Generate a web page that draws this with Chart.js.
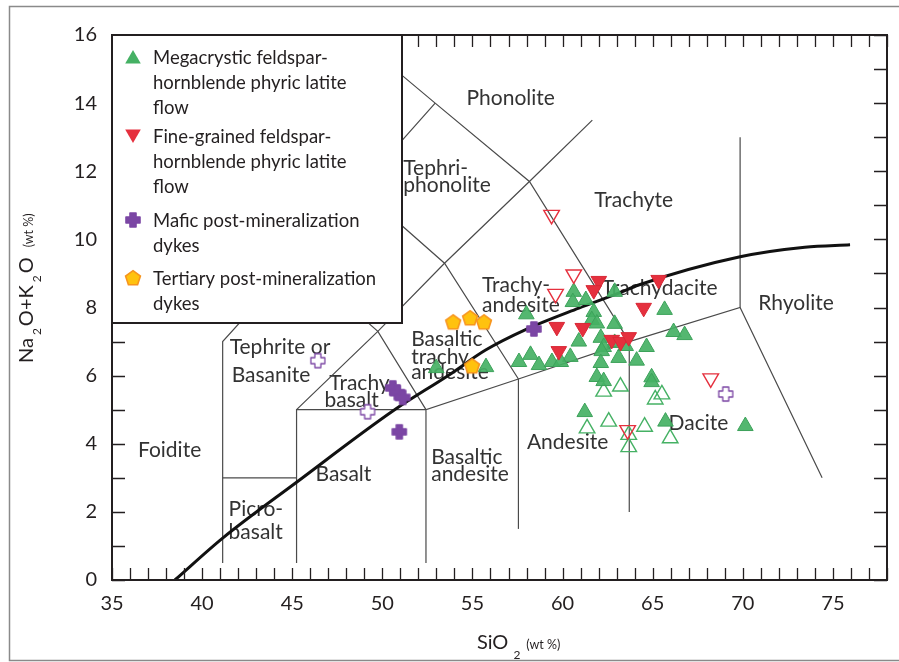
<!DOCTYPE html>
<html>
<head>
<meta charset="utf-8">
<script src="https://cdn.jsdelivr.net/npm/chart.js@4.4.0/dist/chart.umd.min.js"></script>
<style>
  html, body { margin: 0; padding: 0; background: #fff; }
  canvas { display: block; }
</style>
</head>
<body>
<canvas id="tas" width="899" height="662"></canvas>
<script>
// Megacrystic feldspar-hornblende phyric latite flow (solid and open symbols)
const megaSiO2 = [57.99, 60.62, 60.57, 61.29, 61.73, 61.62, 62.89, 62.89, 61.90, 65.66, 66.16, 66.77, 60.90,
  62.12, 62.89, 64.66, 62.28, 62.17, 60.43, 62.12, 63.11, 64.11, 57.58, 58.22, 58.69, 59.41, 59.90, 63.50,
  61.90, 62.28, 64.94, 64.94, 61.23, 65.71, 70.14, 55.75, 52.99];
const megaAlk = [7.80, 8.46, 8.16, 8.22, 7.87, 7.63, 8.46, 7.52, 7.53, 7.93, 7.28, 7.19, 7.00,
  7.11, 6.96, 6.84, 6.84, 6.72, 6.55, 6.37, 6.52, 6.44, 6.40, 6.61, 6.31, 6.40, 6.40, 6.87,
  5.96, 5.84, 5.95, 5.81, 4.93, 4.65, 4.52, 6.25, 6.22];
const megaOpenSiO2 = [62.28, 63.21, 65.14, 65.51, 61.36, 62.56, 64.55, 63.67, 63.67, 65.97];
const megaOpenAlk = [5.53, 5.68, 5.30, 5.45, 4.45, 4.65, 4.50, 4.26, 3.90, 4.16];

// Fine-grained feldspar-hornblende phyric latite flow
const fineSiO2 = [62.01, 61.73, 65.33, 64.50, 59.68, 61.12, 59.79, 62.73, 63.22, 63.67];
const fineAlk = [8.78, 8.51, 8.81, 7.99, 7.43, 7.40, 6.72, 7.05, 6.99, 7.13];
const fineOpenSiO2 = [59.39, 60.62, 59.61, 68.22, 63.61];
const fineOpenAlk = [10.72, 8.97, 8.40, 5.92, 4.40];

// Mafic post-mineralization dykes
const maficSiO2 = [50.58, 50.83, 51.13, 50.94, 58.41];
const maficAlk = [5.64, 5.50, 5.36, 4.35, 7.37];
const maficOpenSiO2 = [46.42, 49.18, 69.05];
const maficOpenAlk = [6.44, 4.94, 5.46];

// Tertiary post-mineralization dykes
const tertSiO2 = [53.93, 54.87, 55.64, 54.98];
const tertAlk = [7.57, 7.69, 7.57, 6.28];

// alkaline / subalkaline divide
const divideSiO2 = [38.49, 41.14, 45.24, 50.66, 53.7, 55.73, 57.95, 60.9, 63.11, 64.22, 69.85, 73.44, 75.95];
const divideAlk = [0, 1.23, 2.87, 4.99, 6.02, 6.75, 7.35, 7.98, 8.42, 8.66, 9.49, 9.77, 9.84];

// TAS field boundaries as drawn on the figure
const fieldLines = [
  [[41.14, 0.5], [41.14, 7], [45.24, 9.4], [48.73, 11.5], [52.93, 14]],
  [[41.14, 3], [45.24, 3]],
  [[45.24, 0.5], [45.24, 5], [52.42, 5]],
  [[52.42, 0.5], [52.42, 5], [57.55, 5.9], [63.7, 7], [69.85, 8], [74.4, 3]],
  [[57.55, 1.5], [57.55, 5.9]],
  [[63.7, 2], [63.7, 7]],
  [[69.85, 8], [69.85, 13]],
  [[45.24, 5], [49.75, 7.3], [53.45, 9.3], [58.16, 11.7], [61.65, 13.5]],
  [[52.42, 5], [49.75, 7.3], [45.24, 9.4]],
  [[57.55, 5.9], [53.45, 9.3], [48.73, 11.5]],
  [[63.7, 7], [58.16, 11.7], [52.93, 14], [50.0, 15.3]],
];

// field names: text, SiO2, alkalis, align
const fieldLabels = [
  ['Phonolite', 57.12, 14.15, 'center'],
  ['Tephri-', 51.16, 12.10, 'left'],
  ['phonolite', 51.16, 11.60, 'left'],
  ['Trachyte', 63.94, 11.16, 'center'],
  ['Trachy-', 55.53, 8.66, 'left'],
  ['andesite', 55.53, 8.07, 'left'],
  ['Trachydacite', 62.17, 8.57, 'left'],
  ['Rhyolite', 70.86, 8.13, 'left'],
  ['Dacite', 65.88, 4.61, 'left'],
  ['Andesite', 58.02, 4.05, 'left'],
  ['Basaltic', 52.71, 3.61, 'left'],
  ['andesite', 52.71, 3.11, 'left'],
  ['Basaltic', 51.60, 7.08, 'left'],
  ['trachy', 51.60, 6.55, 'left'],
  ['andesite', 51.60, 6.11, 'left'],
  ['Tephrite or', 41.53, 6.84, 'left'],
  ['Basanite', 41.64, 6.02, 'left'],
  ['Trachy-', 47.06, 5.78, 'left'],
  ['basalt', 46.79, 5.28, 'left'],
  ['Foidite', 36.44, 3.82, 'left'],
  ['Basalt', 46.29, 3.11, 'left'],
  ['Picro-', 41.47, 2.08, 'left'],
  ['basalt', 41.47, 1.41, 'left'],
];

const xTickLabels = [35, 40, 45, 50, 55, 60, 65, 70, 75];
const yTickLabels = [0, 2, 4, 6, 8, 10, 12, 14, 16];

const INK = '#231f20';
const GREEN = '#45b164';
const RED = '#e5303e';
const PURPLE = '#7b46a4';
const FONT = 'Lato';

const toPts = (xs, ys) => xs.map((x, i) => ({ x: x, y: ys[i] }));

function makeCross(solid) {
  const c = document.createElement('canvas');
  c.width = c.height = 18;
  const g = c.getContext('2d');
  const m = 9, a = 7, w = 3;
  g.beginPath();
  g.moveTo(m - w, m - a); g.lineTo(m + w, m - a); g.lineTo(m + w, m - w); g.lineTo(m + a, m - w);
  g.lineTo(m + a, m + w); g.lineTo(m + w, m + w); g.lineTo(m + w, m + a); g.lineTo(m - w, m + a);
  g.lineTo(m - w, m + w); g.lineTo(m - a, m + w); g.lineTo(m - a, m - w); g.lineTo(m - w, m - w);
  g.closePath();
  g.lineJoin = 'round';
  g.fillStyle = solid ? PURPLE : '#fff';
  g.fill();
  g.lineWidth = solid ? 1.6 : 1.3;
  g.strokeStyle = PURPLE;
  g.stroke();
  return c;
}

function makePentagon() {
  const c = document.createElement('canvas');
  c.width = c.height = 20;
  const g = c.getContext('2d');
  g.beginPath();
  for (let k = 0; k < 5; k++) {
    const t = -Math.PI / 2 + k * 2 * Math.PI / 5;
    g.lineTo(10 + 7.8 * Math.cos(t), 10.5 + 7.8 * Math.sin(t));
  }
  g.closePath();
  g.fillStyle = '#ffc20e';
  g.fill();
  g.lineWidth = 1.6;
  g.strokeStyle = '#f7941d';
  g.stroke();
  return c;
}

const crossSolid = makeCross(true);
const crossOpen = makeCross(false);
const pentagon = makePentagon();

function marker(label, xs, ys, style, fill, edge, rot, width) {
  return {
    label: label,
    data: toPts(xs, ys),
    pointStyle: style,
    pointRotation: rot || 0,
    pointRadius: 9,
    backgroundColor: fill,
    borderColor: edge,
    borderWidth: width,
    order: 0,
  };
}

const datasets = [
  marker('Tertiary post-mineralization dykes', tertSiO2, tertAlk, pentagon, '#ffc20e', '#f7941d'),
  marker('Mafic post-mineralization dykes', maficSiO2, maficAlk, crossSolid, PURPLE, PURPLE),
  marker('Mafic open', maficOpenSiO2, maficOpenAlk, crossOpen, '#fff', PURPLE),
  marker('Fine-grained feldspar-hornblende phyric latite flow', fineSiO2, fineAlk, 'triangle', RED, '#d92836', 180, 1),
  marker('Fine open', fineOpenSiO2, fineOpenAlk, 'triangle', 'rgba(255,255,255,0)', RED, 180, 1.4),
  marker('Megacrystic feldspar-hornblende phyric latite flow', megaSiO2, megaAlk, 'triangle', 'rgba(69,177,100,0.92)', '#3ca25a', 0, 1),
  marker('Mega open', megaOpenSiO2, megaOpenAlk, 'triangle', 'rgba(255,255,255,0)', GREEN, 0, 1.4),
  {
    label: 'divide',
    data: toPts(divideSiO2, divideAlk),
    showLine: true,
    pointRadius: 0,
    borderColor: '#111',
    borderWidth: 3,
    cubicInterpolationMode: 'monotone',
    order: 1,
  },
];

fieldLines.forEach(function (seg, i) {
  datasets.push({
    label: 'field' + i,
    data: seg.map(p => ({ x: p[0], y: p[1] })),
    showLine: true,
    pointRadius: 0,
    borderColor: '#4a4a4a',
    borderWidth: 1.2,
    order: 2,
  });
});

const legendEntries = [
  { lines: ['Megacrystic feldspar-', 'hornblende phyric latite', 'flow'], kind: 'tri', cy: 22 },
  { lines: ['Fine-grained feldspar-', 'hornblende phyric latite', 'flow'], kind: 'inv', cy: 101 },
  { lines: ['Mafic post-mineralization', 'dykes'], kind: 'cross', cy: 185 },
  { lines: ['Tertiary post-mineralization', 'dykes'], kind: 'pent', cy: 243 },
];

function triPath(ctx, x, y, r, down) {
  const s = down ? -1 : 1;
  ctx.beginPath();
  ctx.moveTo(x, y - s * r);
  ctx.lineTo(x + r * 0.866, y + s * r / 2);
  ctx.lineTo(x - r * 0.866, y + s * r / 2);
  ctx.closePath();
}

const tasDecor = {
  id: 'tasDecor',
  beforeDatasetsDraw(chart) {
    const { ctx, scales: { x, y } } = chart;
    ctx.save();
    ctx.fillStyle = '#333';
    ctx.font = '21px ' + FONT;
    ctx.textBaseline = 'middle';
    fieldLabels.forEach(function (l) {
      ctx.textAlign = l[3];
      ctx.fillText(l[0], x.getPixelForValue(l[1]), y.getPixelForValue(l[2]));
    });
    ctx.restore();
  },
  afterDatasetsDraw(chart) {
    const { ctx, chartArea: a, scales: { x, y } } = chart;
    ctx.save();
    // inward ticks on all four sides
    ctx.strokeStyle = INK;
    ctx.lineWidth = 1.3;
    ctx.beginPath();
    x.ticks.forEach(function (t) {
      const px = Math.round(x.getPixelForValue(t.value)) + 0.5;
      ctx.moveTo(px, a.bottom); ctx.lineTo(px, a.bottom - 12);
      ctx.moveTo(px, a.top); ctx.lineTo(px, a.top + 12);
    });
    y.ticks.forEach(function (t) {
      const py = Math.round(y.getPixelForValue(t.value)) + 0.5;
      ctx.moveTo(a.left, py); ctx.lineTo(a.left + 13, py);
      ctx.moveTo(a.right, py); ctx.lineTo(a.right - 13, py);
    });
    ctx.stroke();

    // legend box
    const lx = a.left, ly = a.top, lw = 290, lh = 288;
    ctx.fillStyle = '#fff';
    ctx.fillRect(lx, ly, lw, lh);
    ctx.lineWidth = 2;
    ctx.strokeStyle = INK;
    ctx.strokeRect(lx, ly, lw, lh);
    ctx.font = '18.5px ' + FONT;
    ctx.textAlign = 'left';
    ctx.textBaseline = 'middle';
    legendEntries.forEach(function (e) {
      const mx = lx + 21, my = ly + e.cy;
      if (e.kind === 'tri') {
        triPath(ctx, mx, my + 2, 9, false);
        ctx.fillStyle = GREEN; ctx.fill();
      } else if (e.kind === 'inv') {
        triPath(ctx, mx, my - 2, 9, true);
        ctx.fillStyle = RED; ctx.fill();
      } else if (e.kind === 'cross') {
        ctx.drawImage(crossSolid, mx - 9, my - 9);
      } else {
        ctx.drawImage(pentagon, mx - 10, my - 10);
      }
      ctx.fillStyle = INK;
      e.lines.forEach(function (t, i) {
        ctx.fillText(t, lx + 41, my + 1 + i * 25);
      });
    });

    // plot frame
    ctx.lineWidth = 2;
    ctx.strokeRect(a.left, a.top, a.right - a.left, a.bottom - a.top);

    // axis titles with subscripts
    ctx.fillStyle = INK;
    ctx.textAlign = 'left';
    ctx.textBaseline = 'alphabetic';
    let cx = 0;
    const piece = function (t, size, dy, gap) {
      ctx.font = size + 'px ' + FONT;
      ctx.fillText(t, cx, dy);
      cx += ctx.measureText(t).width + gap;
    };
    ctx.save();
    ctx.translate(33, 363);
    ctx.rotate(-Math.PI / 2);
    cx = 0;
    piece('Na', 20, 0, 3); piece('2', 12, 8, 2); piece('O+K', 20, 0, 3); piece('2', 12, 8, 2);
    piece('O', 20, 0, 10); piece('(wt %)', 12.5, 0, 0);
    ctx.restore();
    ctx.save();
    ctx.translate(477, 649);
    cx = 0;
    piece('SiO', 20, 0, 5); piece('2', 12, 10, 6); piece('(wt %)', 12.5, 0, 0);
    ctx.restore();

    // outer figure frame (left, top, bottom edges only)
    ctx.strokeStyle = '#8a8a8a';
    ctx.lineWidth = 1.5;
    ctx.beginPath();
    ctx.moveTo(899, 6.5); ctx.lineTo(9.5, 6.5); ctx.lineTo(9.5, 660.5); ctx.lineTo(899, 660.5);
    ctx.stroke();
    ctx.restore();
  },
};

new Chart(document.getElementById('tas'), {
  type: 'scatter',
  data: { datasets: datasets },
  options: {
    responsive: false,
    animation: false,
    devicePixelRatio: 1,
    events: [],
    layout: { padding: { top: 35, right: 10, left: 0, bottom: 0 } },
    plugins: { legend: { display: false }, tooltip: { enabled: false } },
    scales: {
      x: {
        type: 'linear',
        min: 35,
        max: 78,
        grid: { display: false, drawTicks: false },
        border: { display: false },
        ticks: {
          stepSize: 1,
          autoSkip: false,
          maxRotation: 0,
          padding: 12,
          color: INK,
          font: { family: FONT, size: 20 },
          callback: v => (xTickLabels.includes(v) ? v : ''),
        },
        afterFit: s => { s.height = 82; },
      },
      y: {
        type: 'linear',
        min: 0,
        max: 16,
        grid: { display: false, drawTicks: false },
        border: { display: false },
        ticks: {
          stepSize: 1,
          autoSkip: false,
          padding: 15,
          color: INK,
          font: { family: FONT, size: 20 },
          callback: v => (yTickLabels.includes(v) ? v : ''),
        },
        afterFit: s => { s.width = 112; },
      },
    },
  },
  plugins: [tasDecor],
});
</script>
</body>
</html>
